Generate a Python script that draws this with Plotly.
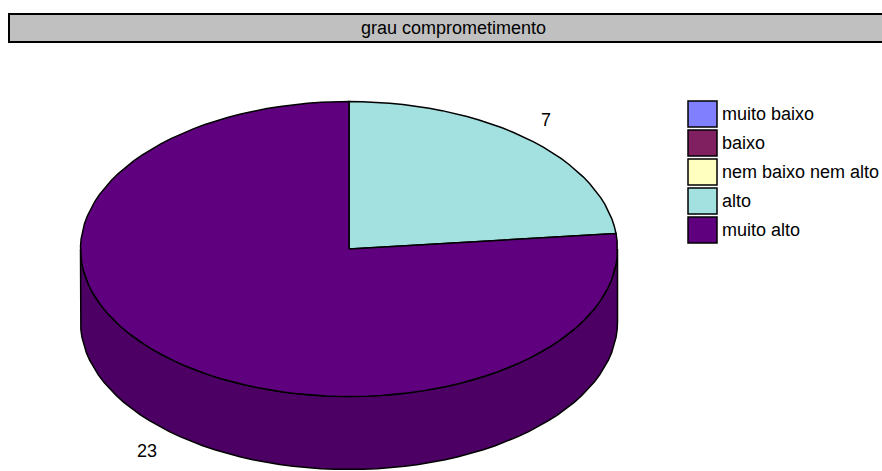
import numpy as np
import plotly.graph_objects as go

# Survey answers for "grau comprometimento"
categories = ["muito baixo", "baixo", "nem baixo nem alto", "alto", "muito alto"]
counts = [0, 0, 0, 7, 23]
top_colors = ["#8080FF", "#802060", "#FFFFC0", "#A3E0E0", "#5F007F"]
side_colors = ["#6666CC", "#661A4D", "#CCCC99", "#82B3B3", "#4C0064"]
chart_title = "grau comprometimento"

W, H = 882, 471
FONT = "Liberation Sans, Arial, sans-serif"
FS = 18

# Pie geometry (pixel space; y grows downward)
CX, CY = 349.0, 249.0
RX, RY = 268.5, 147.5
DEPTH = 73.0


def ellipse_pts(a0, a1, dy=0.0, n=120):
    """Points along the ellipse rim, angle measured clockwise from 12 o'clock."""
    t = np.linspace(a0, a1, max(2, int(n * abs(a1 - a0) / (2 * np.pi)) + 2))
    return CX + RX * np.sin(t), CY - RY * np.cos(t) + dy


fig = go.Figure()

total = float(sum(counts))
fracs = np.array(counts, dtype=float) / total
ends = np.cumsum(fracs) * 2 * np.pi
starts = ends - fracs * 2 * np.pi

# Side walls: only the front half of the rim (90..270 degrees) is visible
front0, front1 = np.pi / 2, 3 * np.pi / 2
for i, (a0, a1) in enumerate(zip(starts, ends)):
    if counts[i] == 0:
        continue
    s0, s1 = max(a0, front0), min(a1, front1)
    if s1 <= s0:
        continue
    xt, yt = ellipse_pts(s0, s1)
    xb, yb = ellipse_pts(s0, s1, dy=DEPTH)
    xs = np.concatenate([xt, xb[::-1], xt[:1]])
    ys = np.concatenate([yt, yb[::-1], yt[:1]])
    fig.add_trace(go.Scatter(
        x=xs, y=ys, mode="lines", fill="toself", fillcolor=side_colors[i],
        line=dict(color="black", width=1.5), hoverinfo="skip", showlegend=False,
    ))

# Top face sectors
for i, (a0, a1) in enumerate(zip(starts, ends)):
    if counts[i] == 0:
        continue
    xr, yr = ellipse_pts(a0, a1)
    xs = np.concatenate([[CX], xr, [CX]])
    ys = np.concatenate([[CY], yr, [CY]])
    fig.add_trace(go.Scatter(
        x=xs, y=ys, mode="lines", fill="toself", fillcolor=top_colors[i],
        line=dict(color="black", width=1.5), name=categories[i],
        hoverinfo="name", showlegend=False,
    ))

# Value labels just outside the rim, at each slice's mid angle
for i, (a0, a1) in enumerate(zip(starts, ends)):
    if counts[i] == 0:
        continue
    mid = (a0 + a1) / 2
    s, c = np.sin(mid), np.cos(mid)
    lx = CX + (RX + 16) * s
    ly = CY - (RY + 26) * c + (DEPTH if c < 0 else 0)
    fig.add_annotation(
        x=lx, y=ly, text=str(counts[i]), showarrow=False,
        xanchor="left" if s > 0 else "right", yanchor="middle",
        font=dict(family=FONT, size=FS, color="black"),
    )

# Title bar
fig.add_shape(type="rect", x0=9, x1=W + 20, y0=14, y1=42,
              fillcolor="#C0C0C0", line=dict(color="black", width=2), layer="below")
fig.add_annotation(x=453, y=28, text=chart_title, showarrow=False,
                   xanchor="center", yanchor="middle",
                   font=dict(family=FONT, size=FS, color="black"))

# Legend: swatch + label per category
LEG_X0, LEG_Y0, LEG_STEP = 688, 101, 29
for i, name in enumerate(categories):
    y0 = LEG_Y0 + i * LEG_STEP
    fig.add_shape(type="rect", x0=LEG_X0, x1=LEG_X0 + 29, y0=y0, y1=y0 + 26,
                  fillcolor=top_colors[i], line=dict(color="black", width=1.5))
    fig.add_annotation(x=LEG_X0 + 32, y=y0 + 13, text=name, showarrow=False,
                       xanchor="left", yanchor="middle",
                       font=dict(family=FONT, size=FS, color="black"))

fig.update_layout(
    width=W, height=H,
    margin=dict(l=0, r=0, t=0, b=0),
    paper_bgcolor="white", plot_bgcolor="white",
    xaxis=dict(range=[0, W], visible=False, fixedrange=True),
    yaxis=dict(range=[H, 0], visible=False, fixedrange=True),
    showlegend=False,
)

fig.write_html("out.html")
